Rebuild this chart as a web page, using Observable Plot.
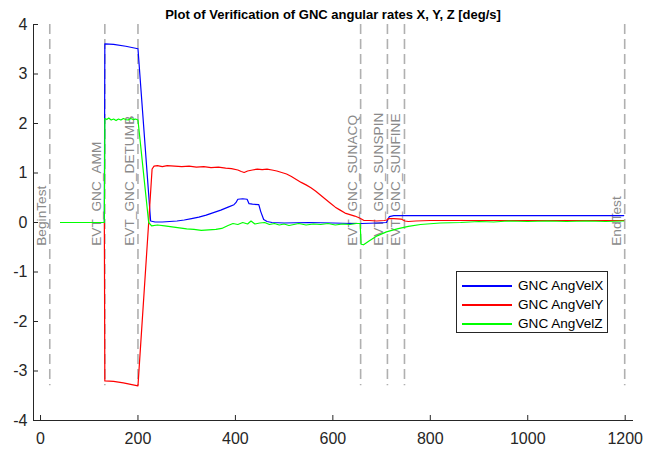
<!DOCTYPE html>
<html><head><meta charset="utf-8">
<script src="https://cdn.jsdelivr.net/npm/d3@7"></script>
<script src="https://cdn.jsdelivr.net/npm/@observablehq/plot@0.6"></script>
<style>
body{margin:0;background:#fff;}
#wrap{position:relative;width:655px;height:449px;overflow:hidden;}
#legend{position:absolute;left:456px;top:271px;width:152px;height:62px;border:1px solid #262626;background:#fff;box-sizing:border-box;font-family:"Liberation Sans",Arial,sans-serif;font-size:13.6px;color:#000;padding-top:4px;}
#legend .row{display:flex;align-items:center;height:19px;}
#legend .sw{width:50px;height:2px;margin-left:5px;margin-right:6px;}
</style></head><body><div id="wrap"></div>
<script>
const titleText = "Plot of Verification of GNC angular rates X, Y, Z [deg/s]";
const xTicks = [0, 200, 400, 600, 800, 1000, 1200];
const yTicks = [-4, -3, -2, -1, 0, 1, 2, 3, 4];
const eventNames = ["BeginTest", "EVT_GNC_AMM", "EVT_GNC_DETUMB", "EVT_GNC_SUNACQ", "EVT_GNC_SUNSPIN", "EVT_GNC_SUNFINE", "EndTest"];
const eventTimes = [19, 132, 200, 657, 712, 747, 1199];
const seriesNames = ["GNC AngVelX", "GNC AngVelY", "GNC AngVelZ"];
const seriesColors = ["#0000ff", "#ff0000", "#00ff00"];

const tX = [41, 131, 132, 150, 175, 200, 226, 235, 250, 265, 280, 295, 310, 325, 340, 355, 370, 385, 397, 401, 405, 415, 424, 428, 435, 448, 452, 458, 465, 475, 500, 550, 600, 640, 660, 690, 710, 716, 725, 760, 850, 1000, 1197];
const vX = [0, 0, 3.61, 3.60, 3.56, 3.51, 0.03, 0.01, 0.01, 0.02, 0.03, 0.05, 0.08, 0.11, 0.15, 0.20, 0.25, 0.31, 0.36, 0.40, 0.47, 0.48, 0.47, 0.38, 0.37, 0.36, 0.22, 0.06, 0.02, 0.0, -0.01, 0.0, -0.01, -0.02, -0.02, -0.01, 0.0, 0.12, 0.14, 0.14, 0.14, 0.14, 0.14];

const tY = [41, 131, 132, 150, 170, 200, 222, 229, 233, 240, 250, 260, 275, 290, 305, 320, 335, 350, 365, 380, 392, 405, 412, 418, 425, 435, 445, 455, 465, 475, 485, 495, 505, 515, 525, 535, 545, 555, 565, 575, 585, 595, 605, 615, 625, 635, 645, 655, 664, 675, 690, 705, 711, 714, 725, 740, 748, 755, 770, 800, 900, 1000, 1100, 1197];
const vY = [0, 0, -3.20, -3.21, -3.24, -3.30, 0, 1.08, 1.14, 1.15, 1.13, 1.15, 1.14, 1.13, 1.14, 1.12, 1.13, 1.11, 1.12, 1.10, 1.09, 1.06, 1.03, 1.01, 1.04, 1.06, 1.08, 1.07, 1.08, 1.06, 1.04, 1.01, 0.98, 0.93, 0.87, 0.81, 0.76, 0.70, 0.63, 0.55, 0.47, 0.39, 0.31, 0.25, 0.19, 0.16, 0.13, 0.09, 0.04, 0.04, 0.03, 0.04, 0.05, 0.08, 0.08, 0.07, 0.03, 0.02, 0.03, 0.04, 0.04, 0.04, 0.04, 0.04];

const tZ = [41, 131, 132, 136, 140, 145, 150, 155, 160, 165, 170, 175, 180, 185, 190, 195, 200, 222, 228, 240, 255, 270, 285, 300, 315, 330, 345, 360, 372, 385, 395, 405, 415, 425, 432, 440, 450, 460, 470, 480, 490, 500, 510, 520, 530, 545, 560, 575, 590, 605, 620, 635, 648, 656, 658, 663, 675, 691, 710, 732, 755, 780, 820, 862, 900, 930, 960, 1000, 1040, 1080, 1120, 1160, 1197];
const vZ = [0, 0, 2.10, 2.08, 2.11, 2.07, 2.09, 2.06, 2.09, 2.07, 2.10, 2.08, 2.07, 2.10, 2.08, 2.09, 2.07, 0.0, -0.07, -0.05, -0.07, -0.09, -0.11, -0.13, -0.14, -0.16, -0.15, -0.14, -0.12, -0.06, -0.02, -0.04, 0.0, -0.03, 0.03, -0.03, -0.01, 0.0, -0.04, -0.02, -0.05, -0.03, -0.06, -0.04, -0.02, -0.05, -0.03, -0.04, -0.02, -0.05, -0.03, -0.04, -0.02, -0.02, -0.44, -0.45, -0.37, -0.27, -0.19, -0.13, -0.08, -0.04, -0.01, 0.0, 0.02, 0.01, 0.03, 0.02, 0.03, 0.02, 0.03, 0.02, 0.03];

const mk = (ts, vs) => ts.map((t, i) => ({t, v: vs[i]}));
const sX = mk(tX, vX), sY = mk(tY, vY), sZ = mk(tZ, vZ);
const events = eventTimes.map((t, i) => ({t, name: eventNames[i]}));
const dataMin = d3.min([...vX, ...vY, ...vZ]);
const yMax = d3.max(yTicks);
const labelY = -0.47;
const fmt = d => String(d);
const font = "Liberation Sans, Arial, Helvetica, sans-serif";

const chart = Plot.plot({
  width: 655, height: 449,
  marginLeft: 33, marginRight: 23, marginTop: 24, marginBottom: 29,
  x: {domain: [-14.4, 1215]},
  y: {domain: [-4, 4]},
  style: {fontFamily: font, background: "white", color: "#262626", overflow: "visible"},
  marks: [
    Plot.ruleX(events, {x: "t", y1: yMax, y2: dataMin, stroke: "#b0b0b0", strokeWidth: 1.6, strokeDasharray: "10,5"}),
    Plot.text(events, {x: "t", y: labelY, text: "name", rotate: -90, textAnchor: "start", lineAnchor: "bottom", dx: -4, fill: "#8a8a8a", fontSize: 13.7}),
    Plot.line(sX, {x: "t", y: "v", stroke: seriesColors[0], strokeWidth: 1.2}),
    Plot.line(sY, {x: "t", y: "v", stroke: seriesColors[1], strokeWidth: 1.2}),
    Plot.line(sZ, {x: "t", y: "v", stroke: seriesColors[2], strokeWidth: 1.2}),
    Plot.frame({anchor: "bottom", stroke: "#262626"}),
    Plot.frame({anchor: "left", stroke: "#262626"}),
    Plot.axisX({ticks: xTicks, tickFormat: fmt, tickSize: -5, tickPadding: 17, fontSize: 16, color: "#262626", label: null}),
    Plot.axisY({ticks: yTicks, tickFormat: fmt, tickSize: -5, tickPadding: 11, fontSize: 16, color: "#262626", label: null}),
    Plot.text([titleText], {frameAnchor: "top", lineAnchor: "bottom", dy: -6, fontSize: 13, fontWeight: "bold", fill: "#000"})
  ]
});
const wrap = document.getElementById("wrap");
wrap.appendChild(chart);
const leg = document.createElement("div");
leg.id = "legend";
seriesNames.forEach((n, i) => {
  const r = document.createElement("div"); r.className = "row";
  const s = document.createElement("div"); s.className = "sw"; s.style.background = seriesColors[i];
  const t = document.createElement("span"); t.textContent = n;
  r.appendChild(s); r.appendChild(t); leg.appendChild(r);
});
wrap.appendChild(leg);
</script></body></html>
